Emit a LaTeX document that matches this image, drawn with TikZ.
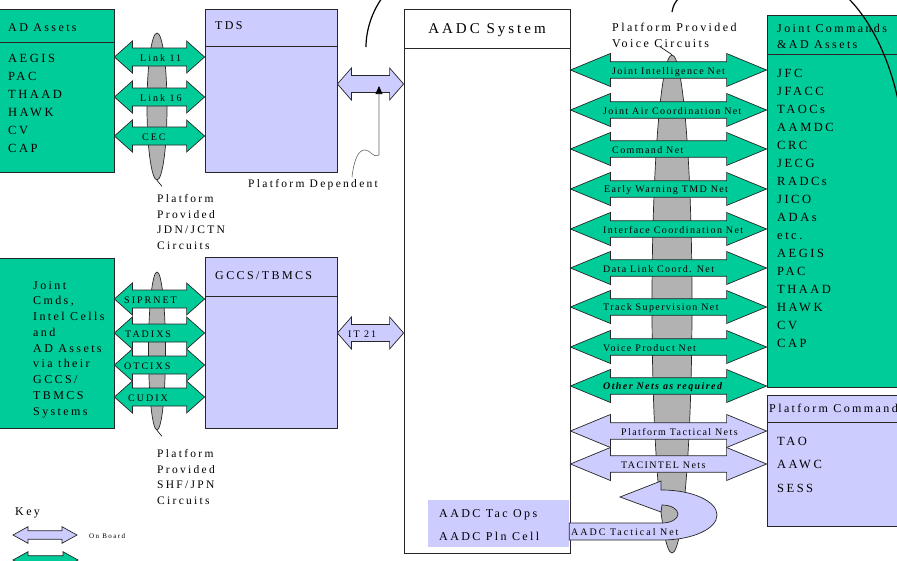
\documentclass[tikz,border=0pt]{standalone}
\usepackage{fontspec}
\setmainfont{Liberation Serif}[LetterSpace=20]
\newfontfamily\netfont{Liberation Serif}[LetterSpace=14]
\usetikzlibrary{positioning, arrows.meta, shapes.geometric, calc}

\definecolor{aadgreen}{RGB}{0,204,153}
\definecolor{aadlav}{RGB}{204,204,255}
\definecolor{circgray}{RGB}{178,178,178}

\tikzset{
  dbl/.style n args={3}{to path={let \p1=(\tikztostart), \p2=(\tikztotarget) in
    (\x1,\y1) -- (\x1+#1,\y1+#2) -- (\x1+#1,\y1+#3) -- (\x2-#1,\y1+#3)
    -- (\x2-#1,\y1+#2) -- (\x2,\y1) -- (\x2-#1,\y1-#2) -- (\x2-#1,\y1-#3)
    -- (\x1+#1,\y1-#3) -- (\x1+#1,\y1-#2) -- cycle}},
}

\begin{document}
\begin{tikzpicture}[
    x=1pt, y=-1pt,
    box/.style={rectangle, draw=black!85, line width=0.8pt, inner sep=0pt},
    greenbox/.style={box, fill=aadgreen},
    lavbox/.style={box, fill=aadlav},
    rule/.style={draw=black!85, line width=0.8pt},
    oval/.style={ellipse, draw=black!85, line width=0.7pt, fill=circgray, inner sep=0pt},
    grn/.style={draw=black!85, line width=0.7pt, fill=aadgreen},
    lav/.style={draw=black!85, line width=0.7pt, fill=aadlav},
    linkarr/.style={grn, dbl={18pt}{16pt}{9pt}},
    ifarr/.style={lav, dbl={14pt}{16pt}{8.5pt}},
    netarr/.style={grn, dbl={40pt}{16.5pt}{8.3pt}},
    tacarr/.style={lav, dbl={40pt}{16.5pt}{8.3pt}},
    keyarr/.style={dbl={15pt}{8.3pt}{4.3pt}},
    txt/.style={inner sep=0pt, anchor=west, font=\fontsize{12}{16}\selectfont},
    lst/.style={inner sep=0pt, anchor=north west, align=left, font=\fontsize{12.5}{18}\selectfont},
    lbl/.style={inner sep=0pt, anchor=west, font=\fontsize{10}{12}\selectfont},
    netlbl/.style={inner sep=0pt, anchor=west, font=\netfont\fontsize{10}{12}\selectfont},
    lead/.style={draw=black, line width=0.6pt},
    curve/.style={draw=black, line width=1.2pt},
]
\useasboundingbox (0,0) rectangle (897,560);
\clip (0,0) rectangle (897,560);

%% --- Boxes ---
\node[box, fill=white, minimum width=166pt, minimum height=544pt] (aadc) at (487,281) {};
\node[greenbox, minimum width=119pt, minimum height=163pt] (ads) at (54.5,90.5) {};
\node[lavbox, minimum width=132pt, minimum height=163pt] (tds) at (271,90.5) {};
\node[greenbox, minimum width=119pt, minimum height=170pt] (jcmds) at (54.5,343) {};
\node[lavbox, minimum width=132pt, minimum height=171pt] (gccs) at (271,342.5) {};
\node[greenbox, minimum width=138pt, minimum height=372pt] (jca) at (836,201) {};
\node[lavbox, minimum width=138pt, minimum height=131pt] (pcmd) at (836,460.5) {};
\node[rectangle, fill=aadlav, inner sep=0pt, minimum width=141pt, minimum height=47pt] (tacops) at (498.5,523.5) {};

%% --- Header lines ---
\draw[rule] (ads.west |- 0,42) -- (ads.east |- 0,42);
\draw[rule] (tds.west |- 0,46) -- (tds.east |- 0,46);
\draw[rule] (gccs.west |- 0,296) -- (gccs.east |- 0,296);
\draw[rule] (aadc.west |- 0,48) -- (aadc.east |- 0,48);
\draw[rule] (jca.west |- 0,54) -- (jca.east |- 0,54);
\draw[rule] (pcmd.west |- 0,422) -- (pcmd.east |- 0,422);

%% --- Circuits ---
\node[oval, minimum width=20pt, minimum height=147pt] (jdn) at (157,106.5) {};
\node[oval, minimum width=17pt, minimum height=158pt] (shf) at (157,351) {};
\node[oval, minimum width=40pt, minimum height=498pt] (voice) at (672,304) {};

%% --- Links AD Assets <-> TDS ---
\draw[linkarr] (ads.east |- 0,57) to (tds.west |- 0,57);
\draw[linkarr] (ads.east |- 0,97) to (tds.west |- 0,97);
\draw[linkarr] (ads.east |- 0,136) to (tds.west |- 0,136);

%% --- Links Joint Cmds <-> GCCS ---
\draw[linkarr] (jcmds.east |- 0,299) to (gccs.west |- 0,299);
\draw[linkarr] (jcmds.east |- 0,333) to (gccs.west |- 0,333);
\draw[linkarr] (jcmds.east |- 0,365) to (gccs.west |- 0,365);
\draw[linkarr] (jcmds.east |- 0,397) to (gccs.west |- 0,397);

%% --- On board interfaces ---
\draw[ifarr] (tds.east |- 0,84) to (aadc.west |- 0,84);
\draw[ifarr] (gccs.east |- 0,333) to (aadc.west |- 0,333);

%% --- Voice nets ---
\draw[netarr] (aadc.east |- 0,70) to (jca.west |- 0,70);
\draw[netarr] (aadc.east |- 0,110) to (jca.west |- 0,110);
\draw[netarr] (aadc.east |- 0,149) to (jca.west |- 0,149);
\draw[netarr] (aadc.east |- 0,189) to (jca.west |- 0,189);
\draw[netarr] (aadc.east |- 0,229) to (jca.west |- 0,229);
\draw[netarr] (aadc.east |- 0,268) to (jca.west |- 0,268);
\draw[netarr] (aadc.east |- 0,307) to (jca.west |- 0,307);
\draw[netarr] (aadc.east |- 0,347) to (jca.west |- 0,347);
\draw[netarr] (aadc.east |- 0,386) to (jca.west |- 0,386);
\draw[tacarr] (aadc.east |- 0,431) to (pcmd.west |- 0,431);
\draw[tacarr] (aadc.east |- 0,464) to (pcmd.west |- 0,464);

%% --- AADC tactical net (U-turn) ---
\draw[lav] (tacops.east |- 0,523) -- (662,523)
  arc[start angle=-90, end angle=90, x radius=16pt, y radius=9pt]
  -- (661,512) -- (620,497) -- (661,481) -- (661,490) -- (662,490)
  arc[start angle=90, end angle=-90, x radius=55pt, y radius=25pt]
  -- (tacops.east |- 0,540) -- cycle;

%% --- Box texts ---
\node[txt] (adshd) at (8,28) {AD Assets};
\node[lst] (adslst) at (8,53.8) {AEGIS\\PAC\\THAAD\\HAWK\\CV\\CAP};
\node[txt] (tdshd) at (215,26) {TDS};
\node[txt] (gccshd) at (215,276) {GCCS/TBMCS};
\node[lst, font=\fontsize{12}{15.75}\selectfont] (jcmdlst) at (33,281)
  {Joint\\Cmds,\\Intel Cells\\and\\AD Assets\\via their\\GCCS/\\TBMCS\\Systems};
\node[inner sep=0pt, font=\fontsize{15}{18}\selectfont] (aadchd) at (487,30.5) {AADC System};
\node[lst, font=\fontsize{12}{16}\selectfont] (jcahd) at (777,24) {Joint Commands\\\&AD Assets};
\node[lst] (jcalst) at (777,68.8)
  {JFC\\JFACC\\TAOCs\\AAMDC\\CRC\\JECG\\RADCs\\JICO\\ADAs\\etc.\\AEGIS\\PAC\\THAAD\\HAWK\\CV\\CAP};
\node[txt] (pcmdhd) at (769,408) {Platform Command};
\node[lst, font=\fontsize{12.5}{23.5}\selectfont] (pcmdlst) at (777,436.8) {TAO\\AAWC\\SESS};
\node[lst, font=\fontsize{12}{23}\selectfont] (tacopslst) at (439,509) {AADC Tac Ops\\AADC Pln Cell};

%% --- Link labels ---
\node[lbl] (l11) at (140,58) {Link 11};
\node[lbl] (l16) at (140,98) {Link 16};
\node[lbl] (cec) at (142,137) {CEC};
\node[lbl] (sip) at (124,300) {SIPRNET};
\node[lbl] (tad) at (125,334) {TADIXS};
\node[lbl] (otc) at (124,366) {OTCIXS};
\node[lbl] (cud) at (128,398) {CUDIX};
\node[lbl] (it21) at (348,334) {IT 21};

%% --- Net labels ---
\node[netlbl] (jin) at (612,72) {Joint Intelligence Net};
\node[netlbl] (jacn) at (603,111) {Joint Air Coordination Net};
\node[netlbl] (cmdn) at (612,150) {Command Net};
\node[netlbl] (ewn) at (604,190) {Early Warning TMD Net};
\node[netlbl] (icn) at (603,230) {Interface Coordination Net};
\node[netlbl] (dlcn) at (603,269) {Data Link Coord. Net};
\node[netlbl] (tsn) at (603,308) {Track Supervision Net};
\node[netlbl] (vpn) at (603,348) {Voice Product Net};
\node[netlbl, font=\netfont\fontsize{10}{12}\selectfont\bfseries\itshape] (onar) at (603,387) {Other Nets as required};
\node[netlbl] (ptn) at (621,432) {Platform Tactical Nets};
\node[netlbl] (taci) at (621,465) {TACINTEL Nets};
\node[lbl] (tacn) at (571,532) {AADC Tactical Net};

%% --- Notes ---
\node[lst, font=\fontsize{11.5}{15.7}\selectfont] (jdntxt) at (157,194)
  {Platform\\Provided\\JDN/JCTN\\Circuits};
\node[lst, font=\fontsize{11.5}{15.7}\selectfont] (shftxt) at (157,449)
  {Platform\\Provided\\SHF/JPN\\Circuits};
\node[lst, font=\fontsize{12}{16}\selectfont] (vctxt) at (612,23)
  {Platform Provided\\Voice Circuits};
\node[txt, font=\fontsize{11.5}{14}\selectfont] (pdep) at (248,185) {Platform Dependent};

\draw[lead] (jdn.south) -- ++(5,6);
\draw[lead] (shf.south) -- ++(5,6);
\draw[lead] (voice.north) -- ++(-12,-8);

\coordinate (pdfoot) at (352,177);
\coordinate (pdtip) at (379,86);
\draw[lead, draw=black!60, -{Triangle[length=8pt, width=7pt, color=black]}]
  (pdfoot) .. controls (354,160) and (358,150) .. (365,150)
  .. controls (371,150) and (372,158) .. (379,155) -- (pdtip);

%% --- Outer circuits (cut off) ---
\draw[curve] (366,47) .. controls (366,30) and (372,12) .. (382,-2);
\draw[curve] (672,12) .. controls (673,6) and (675,2) .. (679,-2);
\draw[curve] (848,-2) .. controls (868,18) and (890,55) .. (900,110);

%% --- Key ---
\node[txt] (key) at (15,513) {Key};
\coordinate (kl1) at (13,535);
\coordinate (kr1) at (77,535);
\draw[lav, keyarr] (kl1) to (kr1);
\node[txt, font=\fontsize{7}{8}\selectfont] (onb) at (89,536) {On Board};
\coordinate (kl2) at (13,560);
\coordinate (kr2) at (78,560);
\draw[grn, keyarr] (kl2) to (kr2);

\end{tikzpicture}
\end{document}
